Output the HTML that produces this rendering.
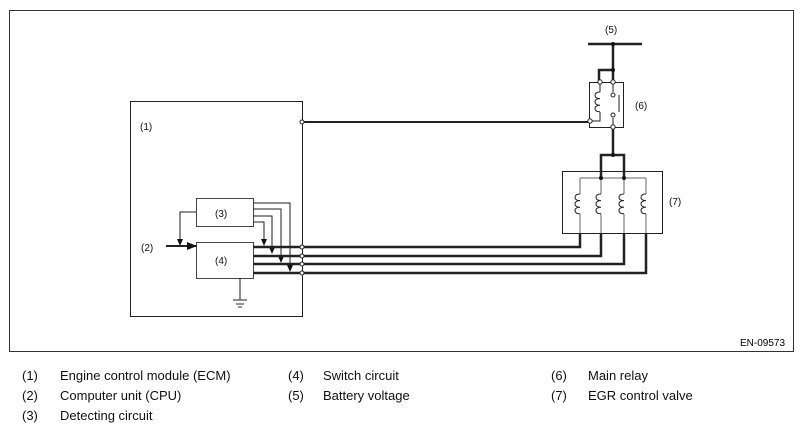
<!DOCTYPE html>
<html><head><style>
body{margin:0;width:804px;height:433px;background:#fff;font-family:"Liberation Sans",sans-serif;overflow:hidden}
.t{position:absolute;font-size:13px;color:#111}
</style></head><body>
<svg width="804" height="433" style="position:absolute;left:0;top:0" font-family="Liberation Sans, sans-serif">
<defs><marker id="a" markerUnits="userSpaceOnUse" markerWidth="7" markerHeight="6" refX="6" refY="3" orient="auto"><path d="M0,0L7,3L0,6z" fill="#111"/></marker>
<marker id="b" markerUnits="userSpaceOnUse" markerWidth="10" markerHeight="8" refX="9" refY="4" orient="auto"><path d="M0,0L10,4L0,8z" fill="#111"/></marker></defs>
<rect x="9.5" y="10.5" width="784" height="341" fill="none" stroke="#333" stroke-width="1"/>
<text x="740" y="346" font-size="10">EN-09573</text>
<g fill="none" stroke="#222">
<rect x="130.5" y="101.5" width="172" height="215"/>
<rect x="196.5" y="198.5" width="57" height="28" stroke="#444"/>
<rect x="196.5" y="242.5" width="57" height="36" stroke="#444"/>
<path d="M253 203H290V271" marker-end="url(#a)"/>
<path d="M253 209H281V262" marker-end="url(#a)"/>
<path d="M253 216H272V253" marker-end="url(#a)"/>
<path d="M253 222H264V245" marker-end="url(#a)"/>
<path d="M196 212H180V245" marker-end="url(#a)"/>
<path d="M166 246H196" stroke-width="2" marker-end="url(#b)"/>
<path d="M240 278V300M233 300H247M236 304H244M238 307H242"/>
<path d="M253 247H580V233M253 256H601V233M253 264H624V233M253 273H646V233" stroke-width="2.5"/>
<path d="M302 122H590" stroke-width="2"/>
<path d="M588 44H642" stroke-width="2.5"/>
<path d="M613 44V82M613 70H599V82M613 127V155M601 178V155H624V178" stroke-width="2.5"/>
<rect x="589.5" y="82.5" width="34" height="45"/>
<rect x="562.5" y="171.5" width="100" height="62"/>
<path d="M580 178H646M580 178V194M601 178V194M624 178V194M646 178V194M580 214V233M601 214V233M624 214V233M646 214V233" stroke="#999" stroke-width="1.5"/>
<path d="M600 82V92M600 112V121H592M619 95V112M613 82V92M613 118V127" stroke-width="1"/>
<g stroke-width="1">
<path d="M600 92q-5 0-5 3.3q0 3.3 5 3.3q-5 0-5 3.3q0 3.3 5 3.3q-5 0-5 3.3q0 3.3 5 3.3"/>
<path d="M580 194q-5 0-5 3.3q0 3.3 5 3.3q-5 0-5 3.3q0 3.3 5 3.3q-5 0-5 3.3q0 3.3 5 3.3"/>
<path d="M601 194q-5 0-5 3.3q0 3.3 5 3.3q-5 0-5 3.3q0 3.3 5 3.3q-5 0-5 3.3q0 3.3 5 3.3"/>
<path d="M624 194q-5 0-5 3.3q0 3.3 5 3.3q-5 0-5 3.3q0 3.3 5 3.3q-5 0-5 3.3q0 3.3 5 3.3"/>
<path d="M646 194q-5 0-5 3.3q0 3.3 5 3.3q-5 0-5 3.3q0 3.3 5 3.3q-5 0-5 3.3q0 3.3 5 3.3"/>
</g>
</g>
<g fill="#fff" stroke="#222" stroke-width="1">
<circle cx="302" cy="122" r="2"/><circle cx="302" cy="247" r="2"/><circle cx="302" cy="256" r="2"/><circle cx="302" cy="264" r="2"/><circle cx="302" cy="273" r="2"/>
<circle cx="600" cy="82" r="2.2"/><circle cx="613" cy="82" r="2.2"/><circle cx="590" cy="121" r="2.2"/><circle cx="613" cy="127" r="2.2"/><circle cx="613" cy="95" r="2"/><circle cx="613" cy="115" r="2"/>
</g>
<g fill="#111"><circle cx="613" cy="44" r="2"/><circle cx="613" cy="70" r="2"/><circle cx="613" cy="155" r="2"/><circle cx="601" cy="178" r="2"/><circle cx="624" cy="178" r="2"/></g>
<g font-size="10" fill="#111">
<text x="140" y="130">(1)</text><text x="141" y="251">(2)</text><text x="215" y="217">(3)</text><text x="215" y="264">(4)</text>
<text x="605" y="33">(5)</text><text x="635" y="109">(6)</text><text x="669" y="205">(7)</text>
</g>
</svg>
<div class="t" style="left:22px;top:368px">(1)</div><div class="t" style="left:60px;top:368px">Engine control module (ECM)</div>
<div class="t" style="left:22px;top:388px">(2)</div><div class="t" style="left:60px;top:388px">Computer unit (CPU)</div>
<div class="t" style="left:22px;top:408px">(3)</div><div class="t" style="left:60px;top:408px">Detecting circuit</div>
<div class="t" style="left:288px;top:368px">(4)</div><div class="t" style="left:323px;top:368px">Switch circuit</div>
<div class="t" style="left:288px;top:388px">(5)</div><div class="t" style="left:323px;top:388px">Battery voltage</div>
<div class="t" style="left:551px;top:368px">(6)</div><div class="t" style="left:588px;top:368px">Main relay</div>
<div class="t" style="left:551px;top:388px">(7)</div><div class="t" style="left:588px;top:388px">EGR control valve</div>
</body></html>
